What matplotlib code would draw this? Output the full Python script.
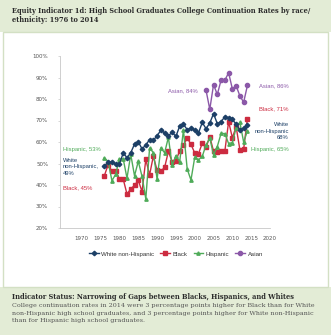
import numpy as np
import matplotlib.pyplot as plt
from matplotlib.patches import Rectangle

# ----------------------------
# Dados
# ----------------------------
years = list(range(1976, 2015))
white = [48.8, 50.8, 50.5, 49.9, 49.8, 54.9, 52.7, 55.0, 59.0, 60.1,
         56.8, 58.6, 61.1, 60.7, 63.0, 65.4, 64.3, 62.9, 64.5, 62.6,
         67.4, 68.2, 65.8, 66.3, 65.7, 64.2, 69.1, 66.2, 68.8, 73.2,
         68.5, 69.5, 71.7, 71.3, 70.5, 68.3, 65.7, 66.3, 67.9]
black = [44.4, 49.5, 46.4, 46.7, 42.7, 42.7, 35.8, 38.2, 39.8, 42.2,
         36.9, 51.9, 44.7, 53.4, 46.8, 46.4, 48.2, 55.6, 50.8, 51.2,
         56.0, 58.5, 61.9, 58.9, 54.9, 54.6, 59.4, 57.5, 62.5, 55.7,
         55.5, 55.7, 55.7, 69.5, 62.0, 67.1, 56.4, 56.7, 70.9]
hispanic = [52.7, 50.8, 42.0, 45.0, 52.3, 52.1, 43.2, 54.2, 44.3, 51.0,
            44.0, 33.5, 57.1, 55.1, 42.7, 57.2, 55.0, 62.2, 49.1, 53.7,
            50.8, 65.6, 47.4, 42.3, 52.9, 51.7, 53.3, 58.6, 61.8, 54.0,
            57.9, 64.0, 63.9, 59.3, 59.7, 66.6, 69.2, 59.9, 65.2]
asian_years = list(range(2003, 2015))
asian = [84.1, 75.2, 86.7, 82.1, 88.8, 88.7, 92.2, 84.7, 86.2, 81.4, 78.5, 86.3]

series_names = ["White non-Hispanic", "Black", "Hispanic", "Asian"]
x_ticks = list(range(1970, 2021, 5))
y_ticks = list(range(20, 101, 10))

c_white = "#1c3f66"
c_black = "#cc2b40"
c_hisp = "#4fab59"
c_asian = "#8b58a8"
band = "#e3ecd6"
border = "#d3e0c4"

# ----------------------------
# Figura
# ----------------------------
W, H = 331, 335
fig = plt.figure(figsize=(W / 100, H / 100), dpi=100)
fig.patch.set_facecolor("white")

def fx(px):
    return px / W

def fy(py):
    return 1 - py / H

# faixas verdes e moldura (atrás dos eixos)
fig.patches.append(Rectangle((0, fy(32)), 1, 1 - fy(32), transform=fig.transFigure,
                             facecolor=band, edgecolor="none", zorder=-10))
fig.patches.append(Rectangle((0, 0), 1, fy(287), transform=fig.transFigure,
                             facecolor=band, edgecolor="none", zorder=-10))
fig.patches.append(Rectangle((fx(3), fy(287)), fx(325), fy(32) - fy(287),
                             transform=fig.transFigure, facecolor="white",
                             edgecolor=border, linewidth=1.0, zorder=-9))

serif = "DejaVu Serif"
fig.text(fx(12), fy(11), "Equity Indicator 1d: High School Graduates College Continuation Rates by race/",
         fontsize=4.8, fontweight="bold", family=serif, color="#2b2b2b", va="center")
fig.text(fx(12), fy(20), "ethnicity: 1976 to 2014",
         fontsize=4.8, fontweight="bold", family=serif, color="#2b2b2b", va="center")

fig.text(fx(12), fy(297), "Indicator Status: Narrowing of Gaps between Blacks, Hispanics, and Whites",
         fontsize=4.8, fontweight="bold", family=serif, color="#2b2b2b", va="center")
body = ["College continuation rates in 2014 were 3 percentage points higher for Black than for White",
        "non-Hispanic high school graduates, and 3 percentage points higher for White non-Hispanic",
        "than for Hispanic high school graduates."]
for i, line in enumerate(body):
    fig.text(fx(12), fy(305.5 + i * 7.5), line, fontsize=4.6, family=serif,
             color="#555555", va="center")

# ----------------------------
# Eixos
# ----------------------------
ax = fig.add_axes([fx(60), fy(228), fx(270) - fx(60), fy(56) - fy(228)])
ax.set_facecolor("none")

ax.plot(years, white, color=c_white, marker="D", markersize=2.3, linewidth=1.0,
        label=series_names[0], zorder=5)
ax.plot(years, black, color=c_black, marker="s", markersize=2.2, linewidth=1.0,
        label=series_names[1], zorder=3)
ax.plot(years, hispanic, color=c_hisp, marker="^", markersize=2.4, linewidth=1.0,
        label=series_names[2], zorder=4)
ax.plot(asian_years, asian, color=c_asian, marker="o", markersize=3.0, linewidth=1.0,
        label=series_names[3], zorder=4)

ax.set_xlim(1964.2, 2020)
ax.set_ylim(20, 100)
ax.set_xticks(x_ticks)
ax.set_yticks(y_ticks)
ax.set_yticklabels([f"{v}%" for v in y_ticks])
for s in ["top", "right"]:
    ax.spines[s].set_visible(False)
for s in ["left", "bottom"]:
    ax.spines[s].set_color("#c8c8c8")
    ax.spines[s].set_linewidth(0.6)
ax.tick_params(axis="both", labelsize=4.0, colors="#555555", length=0, pad=6)
ax.tick_params(axis="y", length=1.5, width=0.5, color="#c8c8c8", pad=7)

lab = dict(fontsize=4.2, family="Liberation Sans", clip_on=False)
# rótulos à esquerda
ax.text(1965.0, 56.6, "Hispanic, 53%", color=c_hisp, va="center", **lab)
ax.text(1965.0, 48.4, "White\nnon-Hispanic,\n49%", color=c_white, va="center",
        linespacing=1.3, **lab)
ax.text(1965.0, 38.6, "Black, 45%", color=c_black, va="center", **lab)
ax.text(2000.8, 83.7, "Asian, 84%", color=c_asian, va="center", ha="right", **lab)
# rótulos à direita
ax.text(2025.0, 86.0, "Asian, 86%", color=c_asian, va="center", ha="right", **lab)
ax.text(2025.0, 75.3, "Black, 71%", color=c_black, va="center", ha="right", **lab)
ax.text(2025.0, 65.1, "White\nnon-Hispanic\n68%", color=c_white, va="center", ha="right",
        linespacing=1.3, **lab)
ax.text(2025.0, 56.7, "Hispanic, 65%", color=c_hisp, va="center", ha="right", **lab)

fig.legend(loc="center", bbox_to_anchor=(fx(176), fy(254)), ncol=4, frameon=False,
           prop={"family": "Liberation Sans", "size": 4.4}, handlelength=1.6,
           columnspacing=1.0, handletextpad=0.4, labelcolor="#333333")

fig.savefig("out.png", dpi=100)
